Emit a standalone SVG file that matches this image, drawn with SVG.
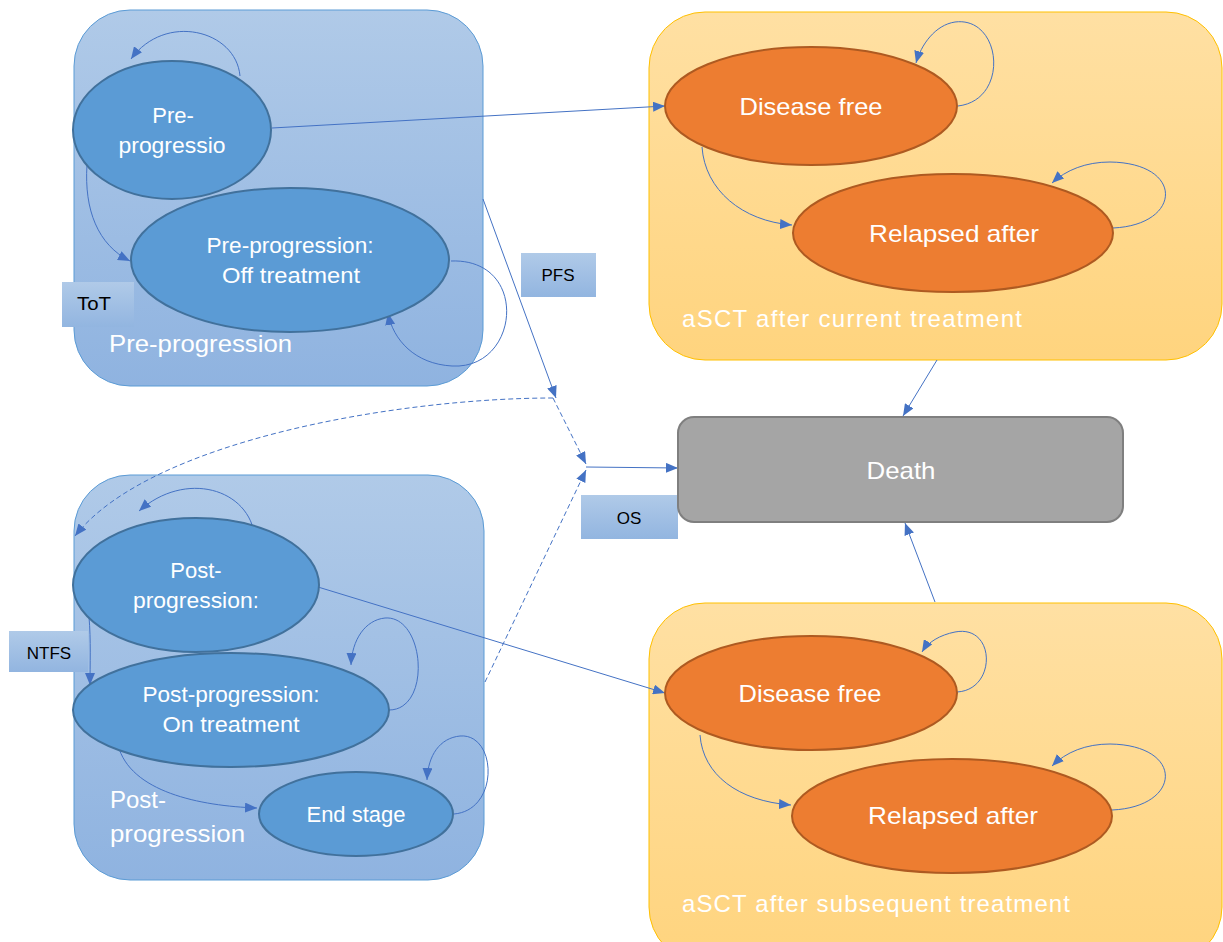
<svg xmlns="http://www.w3.org/2000/svg" width="1223" height="942" viewBox="0 0 1223 942">
<defs>
<linearGradient id="gBlue" x1="0" y1="0" x2="0" y2="1"><stop offset="0" stop-color="#B0CAE8"/><stop offset="1" stop-color="#8FB3E0"/></linearGradient>
<linearGradient id="gOrange" x1="0" y1="0" x2="0" y2="1"><stop offset="0" stop-color="#FFE0A3"/><stop offset="1" stop-color="#FFD47E"/></linearGradient>
<linearGradient id="gBox" x1="0" y1="0" x2="0" y2="1"><stop offset="0" stop-color="#B0CAE8"/><stop offset="1" stop-color="#92B5E0"/></linearGradient>
<marker id="arr" viewBox="0 0 12 10" markerWidth="12" markerHeight="10" refX="12" refY="5" orient="auto" markerUnits="userSpaceOnUse"><path d="M0,0 L12,5 L0,10 z" fill="#4472C4"/></marker>
</defs>
<style>
.cblue{fill:url(#gBlue);stroke:#5B9BD5;stroke-width:1}
.corange{fill:url(#gOrange);stroke:#FFC000;stroke-width:1}
.nblue{fill:#5B9BD5;stroke:#41719C;stroke-width:2}
.norange{fill:#ED7D31;stroke:#AE5A21;stroke-width:2}
.box{fill:url(#gBox)}
.t{font-family:"Liberation Sans",Arial,sans-serif;fill:#fff;font-size:22px;text-anchor:middle}
.to{font-family:"Liberation Sans",Arial,sans-serif;fill:#fff;font-size:24px;text-anchor:middle}
.cl{font-family:"Liberation Sans",Arial,sans-serif;fill:#fff;font-size:24px}
.bt{font-family:"Liberation Sans",Arial,sans-serif;fill:#000;font-size:17px;text-anchor:middle}
.e{fill:none;stroke:#4472C4;stroke-width:1;marker-end:url(#arr)}
.d{stroke-dasharray:5 3}
</style>
<g id="containers">
<g id="pre-progression-group"><rect class="cblue" x="74" y="10" width="409" height="376" rx="56"/><text class="cl" x="109" y="352" textLength="183" lengthAdjust="spacingAndGlyphs">Pre-progression</text></g>
<g id="post-progression-group"><rect class="cblue" x="74" y="475" width="410" height="405" rx="56"/><text class="cl" x="110" y="808">Post-</text><text class="cl" x="110" y="842" textLength="135" lengthAdjust="spacingAndGlyphs">progression</text></g>
<g id="asct-current-group"><rect class="corange" x="649" y="12" width="573" height="348" rx="56"/><text class="cl" x="682" y="327" textLength="340" lengthAdjust="spacing">aSCT after current treatment</text></g>
<g id="asct-subsequent-group"><rect class="corange" x="649" y="603" width="573" height="360" rx="56"/><text class="cl" x="682" y="912" textLength="388" lengthAdjust="spacing">aSCT after subsequent treatment</text></g>
</g>
<g id="connectors">
<path class="e" d="M240 76 C236 30 165 12 131 59"/>
<path class="e" d="M87 165 C84 210 98 245 130 261"/>
<path class="e" d="M451 261 C530 258 520 370 452 366 C415 364 393 340 388 313"/>
<path class="e" d="M272 128 L665 106"/>
<path class="e" d="M483 199 L556 398"/>
<path class="e d" d="M553 398 C400 398 150 440 75 536"/>
<path class="e d" d="M553 398 L586 464"/>
<path class="e d" d="M485 682 L586 470"/>
<path class="e" d="M586 467 L678 468"/>
<path class="e" d="M937 360 L903 416"/>
<path class="e" d="M935 602 L905 523"/>
<path class="e" d="M958 106 C1010 100 1002 16 955 22 C935 25 921 45 916 63"/>
<path class="e" d="M702 147 C705 190 742 221 792 225"/>
<path class="e" d="M1113 228 C1182 225 1185 163 1110 162 C1086 162 1066 170 1052 183"/>
<path class="e" d="M318 587 L665 693"/>
<path class="e" d="M957 692 C997 690 996 624 955 632 C940 635 928 642 922 652"/>
<path class="e" d="M700 735 C703 775 738 801 791 805"/>
<path class="e" d="M1112 810 C1182 807 1185 745 1110 744 C1086 744 1066 752 1052 766"/>
<path class="e" d="M255 538 C250 488 185 470 139 511"/>
<path class="e" d="M89 617 C91 640 90 665 90 685"/>
<path class="e" d="M389 710 C432 710 425 615 385 618 C365 620 352 640 351 665"/>
<path class="e" d="M118 745 C130 792 200 806 257 808"/>
<path class="e" d="M454 814 C500 810 497 733 460 736 C440 738 428 755 427 780"/>
</g>
<g id="pre-progressio"><ellipse class="nblue" cx="172" cy="130" rx="99" ry="69"/><text class="t" x="173" y="123">Pre-</text><text class="t" x="172" y="153" textLength="107" lengthAdjust="spacingAndGlyphs">progressio</text></g>
<g id="pre-off-treatment"><ellipse class="nblue" cx="290" cy="260" rx="159" ry="72"/><text class="t" x="290" y="253" textLength="167" lengthAdjust="spacingAndGlyphs">Pre-progression:</text><text class="t" x="291" y="283" textLength="138" lengthAdjust="spacingAndGlyphs">Off treatment</text></g>
<g id="tot"><rect class="box" x="62" y="282" width="72" height="45"/><text class="bt" x="94" y="310" style="font-size:18px" textLength="34" lengthAdjust="spacingAndGlyphs">ToT</text></g>
<g id="pfs"><rect class="box" x="521" y="253" width="75" height="44"/><text class="bt" x="558" y="281">PFS</text></g>
<g id="os"><rect class="box" x="581" y="495" width="97" height="44"/><text class="bt" x="629" y="524">OS</text></g>
<g id="ntfs"><rect class="box" x="9" y="631" width="79" height="41"/><text class="bt" x="49" y="659">NTFS</text></g>
<g id="post-progression"><ellipse class="nblue" cx="196" cy="585" rx="123" ry="67"/><text class="t" x="196" y="578">Post-</text><text class="t" x="196" y="608" textLength="126" lengthAdjust="spacingAndGlyphs">progression:</text></g>
<g id="post-on-treatment"><ellipse class="nblue" cx="231" cy="710" rx="158" ry="57"/><text class="t" x="231" y="702" textLength="177" lengthAdjust="spacingAndGlyphs">Post-progression:</text><text class="t" x="231" y="732" textLength="137" lengthAdjust="spacingAndGlyphs">On treatment</text></g>
<g id="end-stage"><ellipse class="nblue" cx="356" cy="814" rx="97" ry="42"/><text class="t" x="356" y="822">End stage</text></g>
<g id="death"><rect x="678" y="417" width="445" height="105" rx="16" fill="#A5A5A5" stroke="#7F7F7F" stroke-width="2"/><text class="to" x="901" y="479" textLength="69" lengthAdjust="spacingAndGlyphs">Death</text></g>
<g id="disease-free-1"><ellipse class="norange" cx="811" cy="106" rx="146" ry="59"/><text class="to" x="811" y="115" textLength="143" lengthAdjust="spacingAndGlyphs">Disease free</text></g>
<g id="relapsed-1"><ellipse class="norange" cx="953" cy="233" rx="160" ry="59"/><text class="to" x="954" y="242" textLength="170" lengthAdjust="spacingAndGlyphs">Relapsed after</text></g>
<g id="disease-free-2"><ellipse class="norange" cx="811" cy="693" rx="146" ry="57"/><text class="to" x="810" y="702" textLength="143" lengthAdjust="spacingAndGlyphs">Disease free</text></g>
<g id="relapsed-2"><ellipse class="norange" cx="952" cy="816" rx="160" ry="57"/><text class="to" x="953" y="824" textLength="170" lengthAdjust="spacingAndGlyphs">Relapsed after</text></g>
</svg>
